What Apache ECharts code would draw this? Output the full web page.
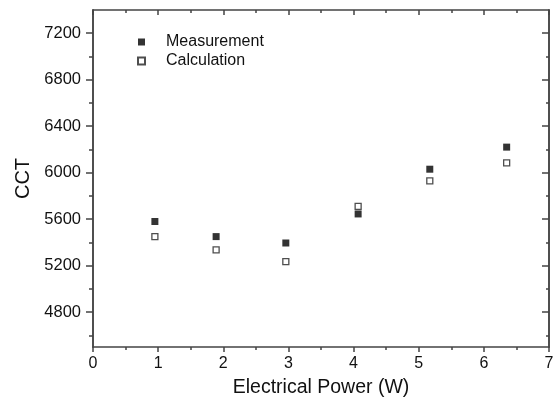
<!DOCTYPE html>
<html><head><meta charset="utf-8">
<script src="https://cdn.jsdelivr.net/npm/echarts@6/dist/echarts.min.js"></script>
<style>html,body{margin:0;padding:0;background:#fff}#c{width:557px;height:404px}</style>
</head><body><div id="c"></div>
<script>
const power = [0.95, 1.89, 2.96, 4.07, 5.17, 6.35];
const measurement = [5580, 5450, 5395, 5645, 6030, 6220];
const calculation = [5450, 5335, 5235, 5710, 5930, 6085];
const yMajorTicks = [4800, 5200, 5600, 6000, 6400, 6800, 7200];
const yMinorTicks = [4600, 5000, 5400, 5800, 6200, 6600, 7000];
const xTicks = [0, 1, 2, 3, 4, 5, 6, 7];

const FONT = 'Liberation Sans, Arial, sans-serif';
const AX = '#444';
const chart = echarts.init(document.getElementById('c'));
const yBase = {type:'value', min:4500, max:7400, splitLine:{show:false},
  axisLine:{show:true, lineStyle:{color:AX, width:1.5}}};
const xBase = {type:'value', min:0, max:7, interval:1, splitLine:{show:false},
  axisLine:{show:true, onZero:false, lineStyle:{color:AX, width:1.5}}};
chart.setOption({
  animation:false,
  grid:{left:93, right:8, top:10, bottom:57},
  legend:{
    orient:'vertical', left:132, top:29, itemWidth:7, itemHeight:7, itemGap:3,
    textStyle:{fontFamily:FONT, fontSize:16, color:'#111', padding:[0,0,0,16], lineHeight:16},
    data:['Measurement','Calculation']
  },
  xAxis:[
    Object.assign({}, xBase, {position:'bottom',
      name:'Electrical Power (W)', nameLocation:'middle', nameGap:31,
      nameTextStyle:{fontFamily:FONT, fontSize:19.5, color:'#111'},
      axisTick:{show:true, inside:false, length:5, lineStyle:{color:AX, width:1.5}},
      minorTick:{show:true, splitNumber:2, length:3, lineStyle:{color:AX, width:1.5}},
      axisLabel:{fontFamily:FONT, fontSize:16, color:'#111', margin:9,
        formatter:v => xTicks.includes(v) ? String(v) : ''}}),
    Object.assign({}, xBase, {position:'top',
      axisTick:{show:true, inside:true, length:5, lineStyle:{color:AX, width:1.5}},
      minorTick:{show:true, splitNumber:2, length:3, lineStyle:{color:AX, width:1.5}},
      axisLabel:{show:false}})
  ],
  yAxis:[
    Object.assign({}, yBase, {position:'left',
      name:'CCT', nameLocation:'middle', nameGap:58,
      nameTextStyle:{fontFamily:FONT, fontSize:20, color:'#111'},
      axisTick:{show:true, inside:false, length:7, customValues:yMajorTicks, lineStyle:{color:AX, width:1.5}},
      axisLabel:{fontFamily:FONT, fontSize:16.5, color:'#111', margin:12, customValues:yMajorTicks,
        formatter:v => String(v)}}),
    Object.assign({}, yBase, {position:'left',
      axisTick:{show:true, inside:false, length:4, customValues:yMinorTicks, lineStyle:{color:AX, width:1.5}},
      axisLabel:{show:false, customValues:yMinorTicks}}),
    Object.assign({}, yBase, {position:'right',
      axisTick:{show:true, inside:true, length:7, customValues:yMajorTicks, lineStyle:{color:AX, width:1.5}},
      axisLabel:{show:false, customValues:yMajorTicks}}),
    Object.assign({}, yBase, {position:'right',
      axisTick:{show:true, inside:true, length:3, customValues:yMinorTicks, lineStyle:{color:AX, width:1.5}},
      axisLabel:{show:false, customValues:yMinorTicks}})
  ],
  series:[
    {name:'Measurement', type:'scatter', symbol:'rect', symbolSize:7,
      itemStyle:{color:'#000'}, data:power.map((x,i)=>[x, measurement[i]])},
    {name:'Calculation', type:'scatter', symbol:'rect', symbolSize:6,
      itemStyle:{color:'#fff', borderColor:'#222', borderWidth:1.3}, data:power.map((x,i)=>[x, calculation[i]])}
  ]
});
</script></body></html>
